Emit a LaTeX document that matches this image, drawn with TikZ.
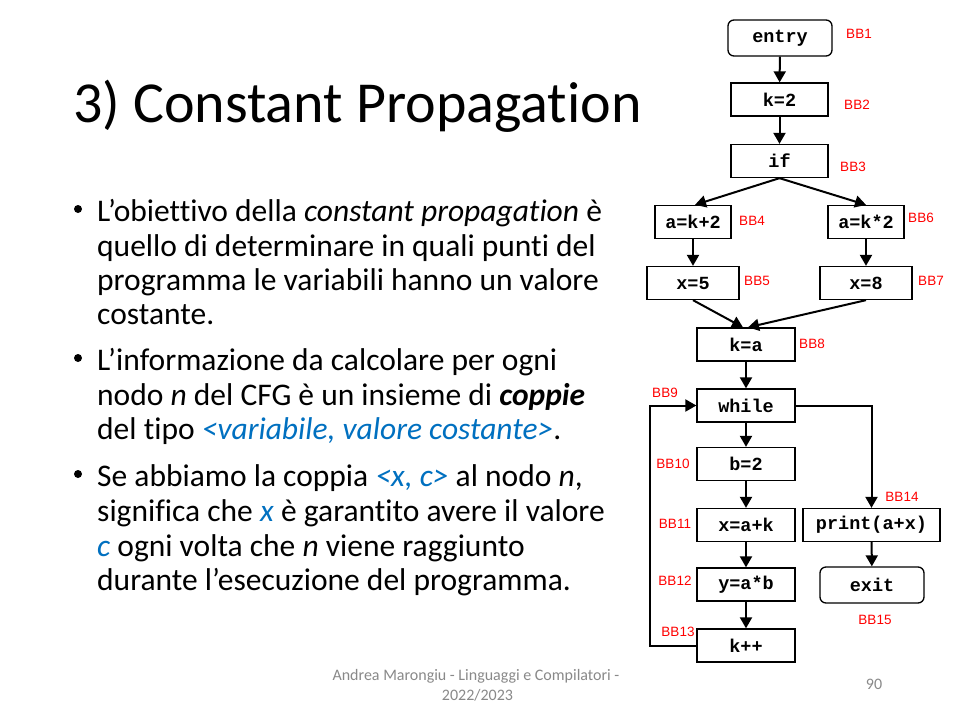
\documentclass[tikz,border=0pt]{standalone}
\usepackage{fontspec}
\setmainfont{Carlito}[Ligatures={NoCommon}]
\newfontfamily\codefont{Liberation Mono}
\newfontfamily\labfont{Liberation Sans}
\usetikzlibrary{arrows.meta}
\definecolor{hiblue}{HTML}{0070C0}
\definecolor{footgrey}{HTML}{898989}
\begin{document}
\begin{tikzpicture}[x=1pt,y=-1pt,
  blk/.style={draw, line width=1.3pt, minimum height=33pt, inner sep=0pt,
    font=\codefont\bfseries\fontsize{18.5}{18.5}\selectfont},
  term/.style={blk, rounded corners=6pt, minimum height=36pt},
  bblab/.style={text=red, inner sep=0pt, font=\labfont\fontsize{13.5}{13.5}\selectfont},
  flow/.style={line width=2pt, -{Triangle[length=11pt,width=12pt]}},
  body/.style={anchor=base west, inner sep=0pt, font=\fontsize{31.5}{31.5}\selectfont},
  dot/.style={circle, fill=black, inner sep=0pt, minimum size=8pt},
  foot/.style={inner sep=0pt, text=footgrey, font=\fontsize{16}{16}\selectfont}]
\useasboundingbox (0,0) rectangle (954,713);
\fill[white] (0,0) rectangle (954,713);

% title
\node[anchor=base west, inner sep=0pt, font=\fontsize{58}{58}\selectfont] (title) at (73,122) {3) Constant Propagation};

% bullet list
\node[dot] (d1) at (78,209) {};
\node[body] (l1) at (97,221) {L’obiettivo della \emph{constant propagation} è};
\node[body] (l2) at (97,256) {quello di determinare in quali punti del};
\node[body] (l3) at (97,290) {programma le variabili hanno un valore};
\node[body] (l4) at (97,324) {costante.};
\node[dot] (d2) at (78,358) {};
\node[body] (l5) at (97,370) {L’informazione da calcolare per ogni};
\node[body] (l6) at (97,405) {nodo \emph{n} del CFG è un insieme di \textbf{\emph{coppie}}};
\node[body] (l7) at (97,439) {del tipo \textcolor{hiblue}{\emph{<variabile, valore costante>}}.};
\node[dot] (d3) at (78,474) {};
\node[body] (l8) at (97,486) {Se abbiamo la coppia \textcolor{hiblue}{\emph{<x, c>}} al nodo \emph{n},};
\node[body] (l9) at (97,521) {significa che \textcolor{hiblue}{\emph{x}} è garantito avere il valore};
\node[body] (l10) at (97,556) {\textcolor{hiblue}{\emph{c}} ogni volta che \emph{n} viene raggiunto};
\node[body] (l11) at (97,590) {durante l’esecuzione del programma.};

% footer
\node[foot, anchor=base] (f1) at (476,680) {Andrea Marongiu - Linguaggi e Compilatori -};
\node[foot, anchor=base] (f2) at (477.5,700) {2022/2023};
\node[foot, anchor=base] (pg) at (874,689) {90};

% control flow graph blocks
\node[term, minimum width=104pt] (bb1) at (780,38) {entry};
\node[blk, minimum width=97pt] (bb2) at (779.5,99.5) {k=2};
\node[blk, minimum width=97pt] (bb3) at (779.5,161) {if};
\node[blk, minimum width=76pt] (bb4) at (693,222) {a=k+2};
\node[blk, minimum width=76pt] (bb6) at (866,222) {a=k*2};
\node[blk, minimum width=92pt] (bb5) at (693,283) {x=5};
\node[blk, minimum width=92pt] (bb7) at (866,283) {x=8};
\node[blk, minimum width=98pt] (bb8) at (746,344.5) {k=a};
\node[blk, minimum width=98pt] (bb9) at (746,405.5) {while};
\node[blk, minimum width=98pt] (bb10) at (746,464) {b=2};
\node[blk, minimum width=98pt] (bb11) at (746,525) {x=a+k};
\node[blk, minimum width=98pt] (bb12) at (746,584.5) {y=a*b};
\node[blk, minimum width=98pt] (bb13) at (746,645.5) {k++};
\node[blk, minimum width=137pt] (bb14) at (871.5,525) {print(a+x)};
\node[term, minimum width=104pt] (bb15) at (872,585) {exit};

% block labels
\node[bblab] (t1) at (859,34) {BB1};
\node[bblab] (t2) at (857,105) {BB2};
\node[bblab] (t3) at (853,167) {BB3};
\node[bblab] (t4) at (752,221) {BB4};
\node[bblab] (t5) at (757,281) {BB5};
\node[bblab] (t6) at (921,218) {BB6};
\node[bblab] (t7) at (931,281) {BB7};
\node[bblab] (t8) at (812,344) {BB8};
\node[bblab] (t9) at (665,393) {BB9};
\node[bblab] (t10) at (673,464) {BB10};
\node[bblab] (t11) at (675,524) {BB11};
\node[bblab] (t12) at (675,581) {BB12};
\node[bblab] (t13) at (678,632) {BB13};
\node[bblab] (t14) at (902,497) {BB14};
\node[bblab] (t15) at (875,620) {BB15};

% edges
\draw[flow] (bb1) -- (bb2);
\draw[flow] (bb2) -- (bb3);
\draw[flow] (bb3.south) -- ([xshift=2pt]bb4.north);
\draw[flow] (bb3.south) -- (bb6.north);
\draw[flow] (bb4) -- (bb5);
\draw[flow] (bb6) -- (bb7);
\draw[flow] (bb5.south) -- ([xshift=-3pt]bb8.north);
\draw[flow] (bb7.south) -- ([xshift=2pt]bb8.north);
\draw[flow] (bb8) -- (bb9);
\draw[flow] (bb9) -- (bb10);
\draw[flow] (bb10) -- (bb11);
\draw[flow] (bb11) -- (bb12);
\draw[flow] (bb12) -- (bb13);
\draw[flow] (bb9.east) -| (bb14.north);
\draw[flow] (bb14) -- (bb15);
\coordinate (loopx) at (650,0);
\draw[flow] (bb13.west) -| (loopx |- bb9.west) -- (bb9.west);
\end{tikzpicture}
\end{document}
